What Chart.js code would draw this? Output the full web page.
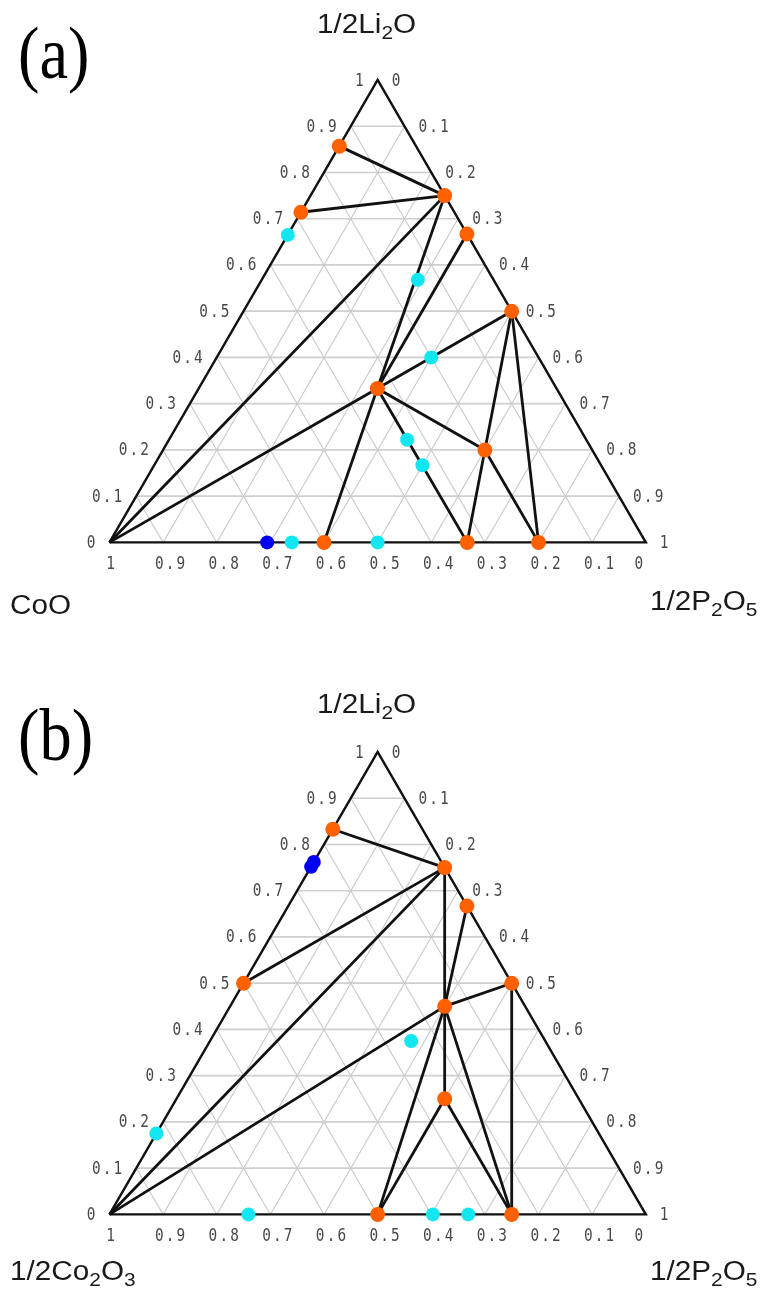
<!DOCTYPE html>
<html>
<head>
<meta charset="utf-8">
<script src="https://cdn.jsdelivr.net/npm/chart.js@4.4.1/dist/chart.umd.min.js"></script>
<style>
  html, body { margin: 0; padding: 0; background: #fff; overflow: hidden; }
  .panel { position: absolute; left: 0; width: 768px; height: 628px; }
</style>
</head>
<body>
<div class="panel" style="top:0"><canvas id="chartA" width="768" height="628"></canvas></div>
<div class="panel" style="top:672px"><canvas id="chartB" width="768" height="628"></canvas></div>
<script>
// tick labels along each side of the triangle
const tickValues = [0, 0.1, 0.2, 0.3, 0.4, 0.5, 0.6, 0.7, 0.8, 0.9, 1];
const tickLabels = ["0", "0.1", "0.2", "0.3", "0.4", "0.5", "0.6", "0.7", "0.8", "0.9", "1"];
const gridSteps = [0.1, 0.2, 0.3, 0.4, 0.5, 0.6, 0.7, 0.8, 0.9];

// compositions are [1/2Li2O, 1/2P2O5]; the remainder is the cobalt oxide
// (a) Li2O - CoO - P2O5
const phasesA = [
  [0.857, 0], [0.714, 0], [0.75, 0.25], [0.667, 0.333], [0.5, 0.5],
  [0.333, 0.333], [0.2, 0.6], [0, 0.4], [0, 0.667], [0, 0.8]
];
const cyanA = [[0.665, 0], [0.568, 0.291], [0.4, 0.4], [0.222, 0.444], [0.167, 0.5], [0, 0.34], [0, 0.5]];
const blueA = [[0, 0.294]];
const tiesA = [
  [[0.857, 0], [0.75, 0.25]],
  [[0.714, 0], [0.75, 0.25]],
  [[0, 0], [0.75, 0.25]],
  [[0, 0], [0.333, 0.333]],
  [[0.75, 0.25], [0.333, 0.333]],
  [[0.667, 0.333], [0.333, 0.333]],
  [[0.5, 0.5], [0.333, 0.333]],
  [[0.333, 0.333], [0, 0.4]],
  [[0.333, 0.333], [0, 0.667]],
  [[0.333, 0.333], [0.2, 0.6]],
  [[0.5, 0.5], [0.2, 0.6]],
  [[0.5, 0.5], [0, 0.8]],
  [[0.2, 0.6], [0, 0.667]],
  [[0.2, 0.6], [0, 0.8]]
];

// (b) Li2O - Co2O3 - P2O5
const phasesB = [
  [0.833, 0], [0.75, 0.25], [0.667, 0.333], [0.5, 0], [0.5, 0.5],
  [0.45, 0.4], [0.25, 0.5], [0, 0.5], [0, 0.75]
];
const cyanB = [[0.175, 0], [0.375, 0.375], [0, 0.259], [0, 0.603], [0, 0.669]];
const blueB = [[0.762, 0], [0.752, 0]];
const tiesB = [
  [[0.833, 0], [0.75, 0.25]],
  [[0.5, 0], [0.75, 0.25]],
  [[0, 0], [0.75, 0.25]],
  [[0, 0], [0.45, 0.4]],
  [[0.75, 0.25], [0.45, 0.4]],
  [[0.667, 0.333], [0.45, 0.4]],
  [[0.5, 0.5], [0.45, 0.4]],
  [[0.5, 0.5], [0, 0.75]],
  [[0.45, 0.4], [0, 0.5]],
  [[0.45, 0.4], [0, 0.75]],
  [[0.45, 0.4], [0.25, 0.5]],
  [[0.25, 0.5], [0, 0.5]],
  [[0.25, 0.5], [0, 0.75]]
];

const H = Math.sqrt(3) / 2;
const pt = ([li, p]) => ({ x: p + li / 2, y: li * H });

// triangle side is 547px, lower-left corner at (104, 548) on a 768x628 canvas
const SIDE = 547, X0 = 104, Y0 = 548, CW = 768, CH = 628;

function seg(a, b, color, width, order) {
  return {
    data: [pt(a), pt(b)], showLine: true, borderColor: color, borderWidth: width,
    pointRadius: 0, fill: false, order: order
  };
}

function gridSets() {
  const out = [];
  gridSteps.forEach(k => {
    out.push(seg([k, 0], [k, 1 - k], "#cfcfcf", 1.7, 4));   // constant Li2O
    out.push(seg([0, k], [1 - k, k], "#c9c9c9", 1.1, 4));   // constant P2O5
    out.push(seg([0, 1 - k], [1 - k, 0], "#c9c9c9", 1.1, 4)); // constant cobalt oxide
  });
  return out;
}

function dots(list, color, r) {
  return {
    data: list.map(pt), showLine: false, pointRadius: r, pointHoverRadius: r,
    pointBackgroundColor: color, pointBorderWidth: 0, order: 0
  };
}

// monospaced, slightly condensed digits with wide spacing
function drawMono(ctx, str, x, y, align) {
  const adv = 10.8;
  const w = str.length * adv;
  let start = align === "right" ? x - w : align === "center" ? x - w / 2 : x;
  ctx.save();
  ctx.font = "18px 'DejaVu Sans Mono'";
  ctx.fillStyle = "#484848";
  ctx.textAlign = "center";
  ctx.textBaseline = "alphabetic";
  for (let i = 0; i < str.length; i++) {
    ctx.save();
    ctx.translate(start + (i + 0.5) * adv, y + 6.5);
    ctx.scale(0.8, 1);
    ctx.fillText(str[i], 0, 0);
    ctx.restore();
  }
  ctx.restore();
}

// formula like "1/2Li{2}O" with subscripts in braces
function drawFormula(ctx, text, x, y) {
  const parts = text.split(/\{(\d+)\}/);
  const sx = 1.1;
  ctx.save();
  ctx.fillStyle = "#1a1a1a";
  ctx.textAlign = "left";
  ctx.textBaseline = "alphabetic";
  let cx = x;
  parts.forEach((s, i) => {
    if (!s) return;
    const sub = i % 2 === 1;
    ctx.font = sub ? "19px 'Liberation Sans'" : "27px 'Liberation Sans'";
    ctx.save();
    ctx.translate(cx, y + (sub ? 6 : 0));
    ctx.scale(sx, 1);
    ctx.fillText(s, 0, 0);
    ctx.restore();
    cx += ctx.measureText(s).width * sx;
  });
  ctx.restore();
}

const ternaryText = {
  id: "ternaryText",
  afterDraw(chart, args, o) {
    const { ctx } = chart;
    const sx = chart.scales.x, sy = chart.scales.y;
    const at = (li, p) => [sx.getPixelForValue(p + li / 2), sy.getPixelForValue(li * H)];

    tickValues.forEach((v, i) => {
      const lab = tickLabels[i];
      // left side: 1/2Li2O
      let [px, py] = at(v, 0);
      drawMono(ctx, lab, px - 13, py - 1, "right");
      // right side: 1/2P2O5
      [px, py] = at(1 - v, v);
      drawMono(ctx, lab, px + 13, py - 1, "left");
      // bottom: cobalt oxide
      [px, py] = at(0, 1 - v);
      const dx = lab.length > 1 ? 7 : (v === 0 ? -7 : 1);
      drawMono(ctx, lab, px + dx, py + 20, "center");
    });

    ctx.save();
    ctx.fillStyle = "#000";
    ctx.font = "74px 'Liberation Serif'";
    ctx.textBaseline = "alphabetic";
    ctx.translate(o.tag[1], o.tag[2]);
    ctx.scale(0.87, 1);
    ctx.fillText(o.tag[0], 0, 0);
    ctx.restore();

    drawFormula(ctx, o.top[0], o.top[1], o.top[2]);
    drawFormula(ctx, o.left[0], o.left[1], o.left[2]);
    drawFormula(ctx, o.right[0], o.right[1], o.right[2]);
  }
};

function makeChart(id, phases, cyan, blue, ties, text) {
  const datasets = [
    ...gridSets(),
    {
      data: [pt([0, 0]), pt([0, 1]), pt([1, 0]), pt([0, 0])], showLine: true,
      borderColor: "#111", borderWidth: 2.4, pointRadius: 0, fill: false, order: 3,
      borderJoinStyle: "miter"
    },
    ...ties.map(t => seg(t[0], t[1], "#111", 2.8, 2)),
    dots(phases, "#ff6000", 7.5),
    dots(cyan, "#12e6f0", 7),
    dots(blue, "#0000f0", 7)
  ];
  return new Chart(document.getElementById(id), {
    type: "scatter",
    data: { datasets },
    options: {
      responsive: false,
      animation: false,
      events: [],
      layout: { padding: 0 },
      scales: {
        x: { type: "linear", display: false, min: -X0 / SIDE, max: (CW - X0) / SIDE },
        y: { type: "linear", display: false, min: -(CH - Y0) / SIDE, max: Y0 / SIDE }
      },
      plugins: {
        legend: { display: false },
        tooltip: { enabled: false },
        ternaryText: text
      }
    },
    plugins: [ternaryText]
  });
}

makeChart("chartA", phasesA, cyanA, blueA, tiesA, {
  tag: ["(a)", 18, 78],
  top: ["1/2Li{2}O", 317, 33],
  left: ["CoO", 10, 614],
  right: ["1/2P{2}O{5}", 650, 610]
});

makeChart("chartB", phasesB, cyanB, blueB, tiesB, {
  tag: ["(b)", 18, 88],
  top: ["1/2Li{2}O", 317, 41],
  left: ["1/2Co{2}O{3}", 10, 608],
  right: ["1/2P{2}O{5}", 650, 608]
});
</script>
</body>
</html>
